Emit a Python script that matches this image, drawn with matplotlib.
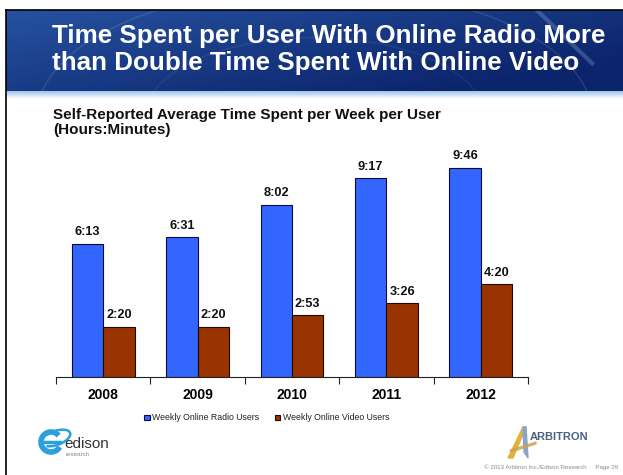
import numpy as np
import matplotlib
matplotlib.use("Agg")
import matplotlib.pyplot as plt
from matplotlib.patches import Polygon, Arc
from matplotlib.lines import Line2D

plt.rcParams["font.family"] = ["Liberation Sans", "DejaVu Sans"]

# 数据：分钟数
years = ["2008", "2009", "2010", "2011", "2012"]
radio_minutes = [373, 391, 482, 557, 586]
video_minutes = [140, 140, 173, 206, 260]
series_names = ["Weekly Online Radio Users", "Weekly Online Video Users"]

title_lines = ["Time Spent per User With Online Radio More",
               "than Double Time Spent With Online Video"]
subtitle_text = "Self-Reported Average Time Spent per Week per User\n(Hours:Minutes)"

W, H = 623, 475
fig = plt.figure(figsize=(W / 100, H / 100), dpi=100)
fig.patch.set_facecolor("white")


def fx(px):
    return px / W


def fy(py):
    return 1 - py / H


# 标题栏渐变
ax_t = fig.add_axes([fx(6), fy(92), fx(617), fy(10) - fy(92)])
gx = np.linspace(0, 1, 300)
gy = np.linspace(0, 1, 80)
GX, GY = np.meshgrid(gx, gy)
c1 = np.array([0x26, 0x52, 0xa0]) / 255
c2 = np.array([0x0c, 0x24, 0x6c]) / 255
t = np.clip(0.7 * GX + 0.5 * GY, 0, 1)[..., None]
img = c1 * (1 - t) + c2 * t
ax_t.imshow(img, aspect="auto", extent=[0, 1, 0, 1], origin="upper")
for r, a in [(0.9, 0.10), (1.3, 0.07), (0.55, 0.06)]:
    ax_t.add_patch(Arc((0.5, -0.3), r, r * 3.5, theta1=20, theta2=160,
                       color="white", alpha=a, lw=1.2))
ax_t.plot([0.86, 0.95], [1.0, 0.35], color="#8fb0e0", alpha=0.3, lw=3)
ax_t.set_xlim(0, 1)
ax_t.set_ylim(0, 1)
ax_t.axis("off")

fig.text(fx(52), fy(36), title_lines[0], color="white", fontsize=18.7,
         fontweight="bold", ha="left", va="center")
fig.text(fx(52), fy(63), title_lines[1], color="white", fontsize=18.7,
         fontweight="bold", ha="left", va="center")

# 标题栏下方浅蓝过渡带
ax_b = fig.add_axes([fx(6), fy(99), fx(617), fy(91) - fy(99)])
band = np.linspace(0, 1, 20)[:, None, None]
top_c = np.array([0x9c, 0xc4, 0xea]) / 255
band_img = top_c * (1 - band) + np.ones(3) * band
ax_b.imshow(np.repeat(band_img, 10, axis=1), aspect="auto", extent=[0, 1, 0, 1])
ax_b.axis("off")

# 边框
fig.add_artist(Line2D([fx(6), fx(6)], [fy(10), 0], color="black", lw=1.2))
fig.add_artist(Line2D([fx(6), 1], [fy(10), fy(10)], color="black", lw=1.2))

# 副标题
fig.text(fx(53), fy(108), subtitle_text, fontsize=11, fontweight="bold",
         color="#111111", ha="left", va="top", linespacing=1.1)

# 柱状图
ax = fig.add_axes([fx(56), fy(377), fx(528) - fx(56), fy(150) - fy(377)])
x = np.arange(len(years))
bw = 1 / 3
b1 = ax.bar(x - bw / 2, radio_minutes, bw, color="#3366FF",
            edgecolor="#0a0a40", linewidth=0.8, label=series_names[0])
b2 = ax.bar(x + bw / 2, video_minutes, bw, color="#993300",
            edgecolor="#200800", linewidth=0.8, label=series_names[1])


def hm(m):
    return f"{m // 60}:{m % 60:02d}"


for bars, vals in [(b1, radio_minutes), (b2, video_minutes)]:
    for rect, v in zip(bars, vals):
        ax.annotate(hm(v), (rect.get_x() + rect.get_width() / 2, v),
                    xytext=(0, 4), textcoords="offset points",
                    ha="center", va="bottom", fontsize=9.2, fontweight="bold",
                    color="#111111")

ax.set_xlim(-0.5, len(years) - 0.5)
ax.set_ylim(0, 636)
for s in ["top", "right", "left"]:
    ax.spines[s].set_visible(False)
ax.spines["bottom"].set_color("#222222")
ax.set_yticks([])
ax.set_xticks(np.arange(-0.5, len(years)))
ax.set_xticklabels([])
ax.tick_params(axis="x", which="major", direction="out", length=5, color="#222222")
ax.set_xticks(x, minor=True)
ax.set_xticklabels(years, minor=True, fontsize=10, fontweight="bold")
ax.tick_params(axis="x", which="minor", length=0, pad=8)
ax.patch.set_alpha(0)

leg = fig.legend(handles=[b1, b2], loc="center", bbox_to_anchor=(fx(267), fy(418)),
                 ncol=2, frameon=False, fontsize=6.3, handlelength=0.6,
                 handleheight=0.6, handletextpad=0.3, columnspacing=1.8)
for txt in leg.get_texts():
    txt.set_color("#222222")

# Edison 标志
ax_e = fig.add_axes([fx(34), fy(462), fx(90), fy(420) - fy(462)])
ax_e.set_xlim(0, 90)
ax_e.set_ylim(0, 42)
ax_e.axis("off")
ax_e.add_patch(Arc((17, 20), 20, 20, theta1=40, theta2=330, color="#2aa0dc", lw=4))
ax_e.plot([8, 26], [20, 20], color="#2aa0dc", lw=2.5)
ax_e.add_patch(Arc((22, 24), 30, 14, angle=20, theta1=200, theta2=500, color="#2aa0dc", lw=1.8))
ax_e.text(30, 18, "edison", fontsize=11, color="#333333", va="center", ha="left")
ax_e.text(32, 7, "research", fontsize=4.5, color="#888888", va="center", ha="left")

# Arbitron 标志
ax_a = fig.add_axes([fx(506), fy(460), fx(110), fy(425) - fy(460)])
ax_a.set_xlim(0, 110)
ax_a.set_ylim(0, 35)
ax_a.axis("off")
ax_a.add_patch(Polygon([[2, 2], [17, 33], [20, 33], [7, 2]], color="#e3b23c"))
ax_a.add_patch(Polygon([[17, 33], [20, 33], [22, 2], [18, 8]], color="#8aa4c8"))
ax_a.add_patch(Polygon([[4, 10], [30, 18], [30, 16], [5, 8]], color="#c9a44a", alpha=0.7))
ax_a.text(24, 23, "ARBITRON", fontsize=8, fontweight="bold", color="#4a5f86",
          va="center", ha="left")

fig.text(fx(618), fy(467), "\u00a9 2013 Arbitron Inc./Edison Research     Page 29",
         fontsize=4.4, color="#888888", ha="right", va="center")

fig.savefig("out.png", dpi=100)
